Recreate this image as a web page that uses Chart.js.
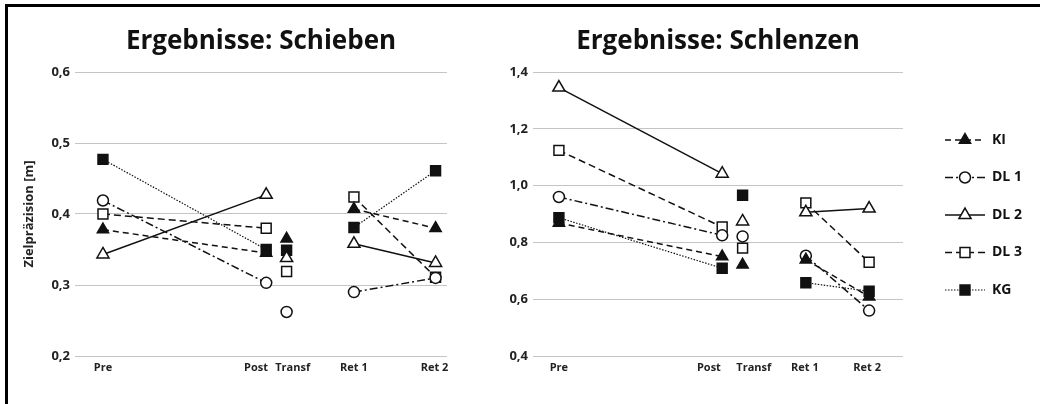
<!DOCTYPE html>
<html>
<head>
<meta charset="utf-8">
<script src="https://cdn.jsdelivr.net/npm/chart.js@4.4.1/dist/chart.umd.min.js"></script>
<style>
  body { margin: 0; background: #fff; }
  #frame {
    position: absolute; left: 5px; top: 4px;
    width: 1035px; height: 400px;
    border-top: 3px solid #000; border-left: 3px solid #000;
  }
  canvas { position: absolute; top: 0; }
  #left { left: 0; }
  #right { left: 472px; }
</style>
</head>
<body>
<div id="frame">
  <canvas id="left" width="472" height="397"></canvas>
  <canvas id="right" width="560" height="397"></canvas>
</div>
<script>
// Messzeitpunkte
const categories = ['Pre', 'Post', 'Transf', 'Ret 1', 'Ret 2'];
const seriesNames = ['KI', 'DL 1', 'DL 2', 'DL 3', 'KG'];

// x-Lage der Messzeitpunkte (Achseneinheiten) und Lage der Beschriftungen
const xSchieben = [1, 9, 10, 13.3, 17.3];
const tickSchieben = [1, 8.5, 10.3, 13.3, 17.25];
const xSchlenzen = [1, 9, 10, 13.1, 16.2];
const tickSchlenzen = [1, 8.35, 10.55, 13.05, 16.1];

// Schieben
const kiSchieben  = [0.378, 0.345, 0.365, 0.407, 0.380];
const dl1Schieben = [0.419, 0.303, 0.262, 0.290, 0.310];
const dl2Schieben = [0.343, 0.427, 0.338, 0.358, 0.331];
const dl3Schieben = [0.400, 0.380, 0.319, 0.424, 0.311];
const kgSchieben  = [0.477, 0.350, 0.349, 0.381, 0.461];

// Schlenzen
const kiSchlenzen  = [0.868, 0.750, 0.721, 0.739, 0.609];
const dl1Schlenzen = [0.960, 0.825, 0.821, 0.753, 0.560];
const dl2Schlenzen = [1.345, 1.042, 0.874, 0.906, 0.919];
const dl3Schlenzen = [1.124, 0.854, 0.780, 0.939, 0.730];
const kgSchlenzen  = [0.887, 0.709, 0.966, 0.658, 0.628];

const FONT = '"Open Sans", sans-serif';

// look of each group
const styles = [
    { dash: [6, 4], width: 1.5, point: 'triangle', radius: 6.5, fill: '#111' },
    { dash: [8, 3, 2, 3], width: 1.5, point: 'circle', radius: 5.5, fill: '#fff' },
    { dash: [], width: 1.5, point: 'triangle', radius: 7, fill: '#fff' },
    { dash: [7, 4], width: 1.5, point: 'rect', radius: 7, fill: '#fff' },
    { dash: [1.5, 1.5], width: 1.2, point: 'rect', radius: 7, fill: '#111' }
];

function buildDatasets(xs, lists) {
    return lists.map((vals, s) => ({
        label: seriesNames[s],
        data: vals.map((v, i) => ({ x: xs[i], y: v })),
        borderColor: '#111',
        borderWidth: styles[s].width,
        borderDash: styles[s].dash,
        pointStyle: styles[s].point,
        pointRadius: styles[s].radius,
        pointBackgroundColor: styles[s].fill,
        pointBorderColor: '#111',
        pointBorderWidth: 1.5,
        tension: 0,
        fill: false,
        // only Pre-Post and Ret 1-Ret 2 are joined
        segment: {
            borderColor: ctx => (ctx.p0DataIndex === 1 || ctx.p0DataIndex === 2) ? 'rgba(0,0,0,0)' : '#111'
        }
    }));
}

function drawMarker(ctx, style, x, y, r, fill) {
    ctx.beginPath();
    if (style === 'circle') {
        ctx.arc(x, y, r, 0, Math.PI * 2);
    } else if (style === 'triangle') {
        const h = r * 1.5, w = r * Math.sqrt(3) / 2;
        ctx.moveTo(x, y - r);
        ctx.lineTo(x + w, y - r + h);
        ctx.lineTo(x - w, y - r + h);
        ctx.closePath();
    } else {
        const sz = r * Math.SQRT1_2;
        ctx.rect(x - sz, y - sz, sz * 2, sz * 2);
    }
    ctx.fillStyle = fill;
    ctx.fill();
    ctx.setLineDash([]);
    ctx.lineWidth = 1.5;
    ctx.strokeStyle = '#111';
    ctx.stroke();
}

const chartTitle = {
    id: 'chartTitle',
    afterDraw(chart, args, opts) {
        const { ctx, chartArea } = chart;
        ctx.save();
        ctx.font = 'bold 26px ' + FONT;
        ctx.fillStyle = '#111';
        ctx.textAlign = 'center';
        ctx.textBaseline = 'alphabetic';
        ctx.fillText(opts.text, (chartArea.left + chartArea.right) / 2, chartArea.top - 23);
        ctx.restore();
    }
};

const sideLegend = {
    id: 'sideLegend',
    afterDraw(chart, args, opts) {
        if (!opts.show) return;
        const { ctx, chartArea } = chart;
        const x0 = chartArea.right + 42;
        chart.data.datasets.forEach((ds, i) => {
            const y = chartArea.top + 68 + i * 37.5;
            ctx.save();
            ctx.strokeStyle = '#111';
            ctx.lineWidth = ds.borderWidth;
            ctx.setLineDash(ds.borderDash);
            ctx.beginPath();
            ctx.moveTo(x0, y);
            ctx.lineTo(x0 + 40, y);
            ctx.stroke();
            drawMarker(ctx, ds.pointStyle, x0 + 20, y, ds.pointRadius, ds.pointBackgroundColor);
            ctx.font = 'bold 14px ' + FONT;
            ctx.fillStyle = '#111';
            ctx.textAlign = 'left';
            ctx.textBaseline = 'middle';
            ctx.fillText(ds.label, x0 + 47, y);
            ctx.restore();
        });
    }
};

function makeChart(id, cfg) {
    return new Chart(document.getElementById(id), {
        type: 'line',
        data: { datasets: buildDatasets(cfg.xs, cfg.series) },
        options: {
            responsive: false,
            animation: false,
            devicePixelRatio: 1,
            layout: { padding: { top: 65, right: cfg.padRight, left: 0, bottom: 0 } },
            plugins: {
                legend: { display: false },
                tooltip: { enabled: false },
                chartTitle: { text: cfg.title },
                sideLegend: { show: cfg.legend }
            },
            scales: {
                x: {
                    type: 'linear',
                    min: cfg.xMin,
                    max: cfg.xMax,
                    grid: { display: false, drawTicks: false },
                    border: { display: false },
                    afterBuildTicks: scale => {
                        scale.ticks = cfg.ticks.map(v => ({ value: v }));
                    },
                    afterFit: scale => { scale.height = 48; },
                    ticks: {
                        autoSkip: false,
                        maxRotation: 0,
                        padding: 5,
                        color: '#222',
                        font: { family: FONT, size: 11, weight: 'bold' },
                        callback: (v, i) => categories[i]
                    }
                },
                y: {
                    min: cfg.yMin,
                    max: cfg.yMax,
                    grid: { color: '#c4c4c4', lineWidth: 1, drawTicks: false },
                    border: { display: false },
                    afterFit: scale => { scale.width = cfg.yWidth; },
                    ticks: {
                        stepSize: cfg.yStep,
                        padding: 5,
                        color: '#222',
                        font: { family: FONT, size: 13, weight: 'bold' },
                        callback: v => v.toFixed(1).replace('.', ',')
                    },
                    title: {
                        display: cfg.yTitle !== '',
                        text: cfg.yTitle,
                        color: '#222',
                        padding: { top: 13, bottom: 4 },
                        font: { family: FONT, size: 13, weight: 'bold' }
                    }
                }
            }
        },
        plugins: [chartTitle, sideLegend]
    });
}

makeChart('left', {
    title: 'Ergebnisse: Schieben',
    xs: xSchieben, ticks: tickSchieben,
    series: [kiSchieben, dl1Schieben, dl2Schieben, dl3Schieben, kgSchieben],
    xMin: -0.37, xMax: 17.86,
    yMin: 0.2, yMax: 0.6, yStep: 0.1,
    yWidth: 67, padRight: 33,
    yTitle: 'Zielpräzision [m]',
    legend: false
});

makeChart('right', {
    title: 'Ergebnisse: Schlenzen',
    xs: xSchlenzen, ticks: tickSchlenzen,
    series: [kiSchlenzen, dl1Schlenzen, dl2Schlenzen, dl3Schlenzen, kgSchlenzen],
    xMin: -0.27, xMax: 17.86,
    yMin: 0.4, yMax: 1.4, yStep: 0.2,
    yWidth: 53, padRight: 137,
    yTitle: '',
    legend: true
});
</script>
</body>
</html>
